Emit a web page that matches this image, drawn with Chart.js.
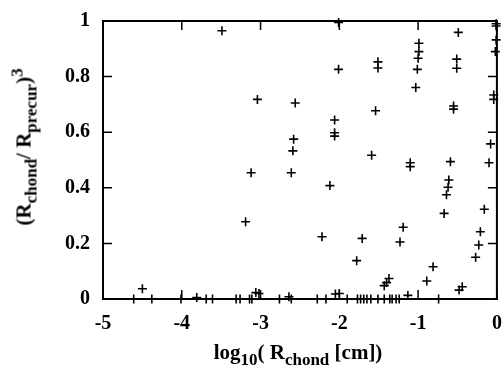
<!DOCTYPE html>
<html>
<head>
<meta charset="utf-8">
<script src="https://cdn.jsdelivr.net/npm/chart.js@4/dist/chart.umd.min.js"></script>
<style>
  html, body { margin: 0; padding: 0; background: #fff; }
  #wrap { position: relative; width: 503px; height: 367px; overflow: hidden; }
  .lbl { position: absolute; font-family: "Liberation Serif", serif; font-weight: bold;
         font-size: 21px; color: #000; white-space: nowrap; line-height: 1; }
  .lbl .sb { font-size: 17px; position: relative; top: 6px; }
  .lbl .sp { font-size: 17px; position: relative; top: -8px; }
  #xtitle { left: 298px; top: 342px; transform: translateX(-50%); }
  #ytitle { left: 24px; top: 147px; transform: translate(-50%, -50%) rotate(-90deg); }
</style>
</head>
<body>
<div id="wrap">
  <canvas id="chart" width="503" height="367"></canvas>
  <div id="xtitle" class="lbl">log<span class="sb">10</span>( R<span class="sb">chond</span> [cm])</div>
  <div id="ytitle" class="lbl">(R<span class="sb">chond</span>/ R<span class="sb">precur</span>)<span class="sp">3</span></div>
</div>
<script>
// log10 del radio (cm) y fracción de volumen
const rLog = [
  -3.49, -3.04, -2.56, -2.58, -2.59, -3.12, -2.61, -3.19, -4.50,
  -2.01, -2.01, -2.06, -2.06, -2.06, -2.12, -2.22, -2.05, -2.00,
  -1.59, -1.51, -1.51, -1.54, -1.71, -1.78, -1.37, -1.40, -1.43,
  -0.99, -0.99, -1.00, -1.01, -1.03, -1.10, -1.10, -1.19, -1.23, -1.13,
  -0.49, -0.51, -0.51, -0.55, -0.55, -0.59, -0.61, -0.62, -0.64, -0.67,
  -0.81, -0.89, -0.74, -0.44, -0.48,
  -0.01, -0.01, -0.01, -0.02, -0.04, -0.04, -0.08, -0.10, -0.16, -0.21, -0.23, -0.27,
  -3.81, -3.06, -3.02, -2.64,
  // puntos sobre el eje (fracción 0)
  -4.61, -4.38, -4.01, -3.69, -3.61, -3.31, -3.26, -3.14, -3.11, -2.76,
  -2.61, -2.28, -2.17, -1.90, -1.77, -1.73, -1.69, -1.65, -1.60, -1.51,
  -1.43, -1.36, -1.33, -1.28, -1.24
];
const frac = [
  0.965, 0.718, 0.705, 0.575, 0.533, 0.454, 0.454, 0.278, 0.037,
  0.995, 0.826, 0.644, 0.598, 0.586, 0.408, 0.224, 0.018, 0.020,
  0.517, 0.853, 0.831, 0.677, 0.218, 0.138, 0.074, 0.059, 0.048,
  0.920, 0.890, 0.866, 0.826, 0.761, 0.490, 0.476, 0.258, 0.205, 0.013,
  0.959, 0.863, 0.830, 0.694, 0.683, 0.494, 0.428, 0.402, 0.375, 0.308,
  0.116, 0.065, 0.000, 0.044, 0.032,
  0.990, 0.982, 0.932, 0.890, 0.734, 0.718, 0.558, 0.490, 0.323, 0.242, 0.194, 0.150,
  0.005, 0.023, 0.020, 0.008,
  0, 0, 0, 0, 0, 0, 0, 0, 0, 0,
  0, 0, 0, 0, 0, 0, 0, 0, 0, 0,
  0, 0, 0, 0, 0
];
const xTicks = [-5, -4, -3, -2, -1, 0];
const yTicks = [0, 0.2, 0.4, 0.6, 0.8, 1];
const yTickLabels = ["0", "0.2", "0.4", "0.6", "0.8", "1"];

const FONT = { family: "Liberation Serif", weight: "bold", size: 20 };

// marco + ticks hacia dentro en los cuatro lados
const frameTicks = {
  id: "frameTicks",
  afterDraw(chart) {
    const { ctx, chartArea: a, scales } = chart;
    const L = 9;
    ctx.save();
    ctx.strokeStyle = "#000";
    ctx.lineWidth = 2;
    ctx.strokeRect(a.left, a.top, a.right - a.left, a.bottom - a.top);
    ctx.lineWidth = 1.5;
    ctx.beginPath();
    xTicks.forEach((v) => {
      const x = scales.x.getPixelForValue(v);
      ctx.moveTo(x, a.bottom); ctx.lineTo(x, a.bottom - L);
      ctx.moveTo(x, a.top); ctx.lineTo(x, a.top + L);
    });
    yTicks.forEach((v) => {
      const y = scales.y.getPixelForValue(v);
      ctx.moveTo(a.left, y); ctx.lineTo(a.left + L, y);
      ctx.moveTo(a.right, y); ctx.lineTo(a.right - L, y);
    });
    ctx.stroke();
    ctx.restore();
  },
};

new Chart(document.getElementById("chart"), {
  type: "scatter",
  data: {
    datasets: [{
      data: rLog.map((x, i) => ({ x, y: frac[i] })),
      pointStyle: "cross",
      pointRadius: 4.5,
      borderColor: "#000",
      borderWidth: 1.6,
      clip: false,
    }],
  },
  options: {
    responsive: false,
    animation: false,
    layout: { padding: { left: 0, right: 5.5, top: 21, bottom: 0 } },
    plugins: { legend: { display: false }, tooltip: { enabled: false } },
    scales: {
      x: {
        type: "linear", min: -5, max: 0,
        afterBuildTicks: (s) => { s.ticks = xTicks.map((v) => ({ value: v })); },
        afterFit: (s) => { s.height = 68; s.paddingLeft = 0; s.paddingRight = 0; },
        grid: { display: false, drawTicks: false },
        border: { display: false },
        ticks: { color: "#000", font: FONT, padding: 13, maxRotation: 0 },
      },
      y: {
        type: "linear", min: 0, max: 1,
        afterBuildTicks: (s) => { s.ticks = yTicks.map((v) => ({ value: v })); },
        afterFit: (s) => { s.width = 103; s.paddingTop = 0; s.paddingBottom = 0; },
        grid: { display: false, drawTicks: false },
        border: { display: false },
        ticks: {
          color: "#000", font: FONT, padding: 13,
          callback: (v) => yTickLabels[yTicks.indexOf(v)] ?? v,
        },
      },
    },
  },
  plugins: [frameTicks],
});
</script>
</body>
</html>
